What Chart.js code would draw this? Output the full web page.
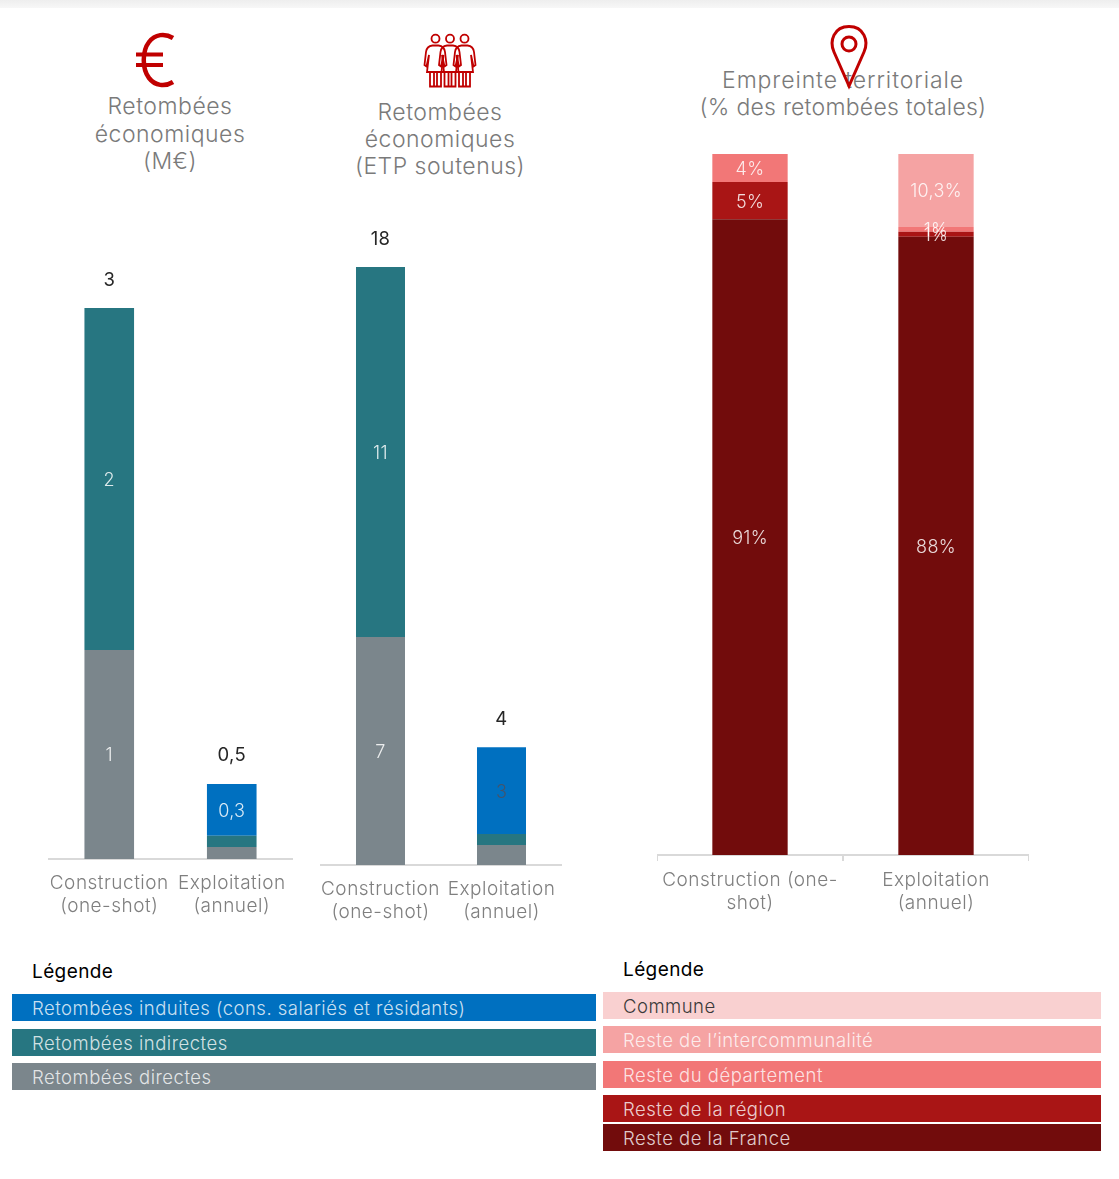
<!DOCTYPE html>
<html lang="fr">
<head>
<meta charset="utf-8">
<title>Retombées économiques</title>
<script src="https://cdn.jsdelivr.net/npm/chart.js@4"></script>
<style>
	html, body { margin: 0; padding: 0; background: #fff; }
	body { width: 1119px; height: 1179px; position: relative; overflow: hidden; font-family: Inter, sans-serif; font-weight: 300; }
	#topbar { position: absolute; left: 0; top: 0; width: 100%; height: 8px; background: linear-gradient(#eeeeee, #f7f7f7); }
	canvas { position: absolute; display: block; }
	.title { position: absolute; text-align: center; color: #7a7a7a; font-size: 23px; letter-spacing: 0.5px; white-space: nowrap; }
	.legend-title { position: absolute; color: #000; font-size: 19px; font-weight: 400; letter-spacing: 0.4px; line-height: 22px; }
	.legend-row { position: absolute; height: 27px; line-height: 28px; font-size: 18.5px; letter-spacing: 0.5px; box-sizing: border-box; white-space: nowrap; }
	svg.icon { position: absolute; left: 0; top: 0; pointer-events: none; }
</style>
</head>
<body>
<div id="topbar"></div>

<div class="title" style="left:70px;width:200px;top:93px;line-height:27.5px">Retombées<br>économiques<br>(M€)</div>
<div class="title" style="left:340px;width:200px;top:99px;line-height:27px">Retombées<br>économiques<br>(ETP soutenus)</div>
<div class="title" style="left:643px;width:400px;top:67px;line-height:27px"><span style="letter-spacing:0.9px">Empreinte territoriale</span><br><span style="letter-spacing:0.25px">(% des retombées totales)</span></div>

<canvas id="chart-meur" width="245" height="725" style="left:48px;top:200px"></canvas>
<canvas id="chart-etp" width="242" height="725" style="left:320px;top:200px"></canvas>
<canvas id="chart-terr" width="372" height="767" style="left:657px;top:154px"></canvas>

<div class="legend-title" style="left:32px;top:961px">Légende</div>
<div class="legend-title" style="left:623px;top:959px">Légende</div>
<div id="legend-left"></div>
<div id="legend-right"></div>

<svg class="icon" width="1119" height="120" fill="none" stroke="#C00000">
	<!-- euro -->
	<path stroke-width="4.5" d="M173 38 C165 33 155 34 149 42 C142 51 142 69 149 78 C155 86 165 87 173 82"/>
	<path stroke-width="4" d="M136 54.5 H163 M136 65 H163"/>
	<!-- femmes -->
	<defs>
		<g id="woman" stroke-width="1.8">
			<circle cx="0" cy="38.7" r="4"/>
			<path d="M-3 45.5 C-7 46 -9 47.5 -9.5 52 L-11 65 L-9 66.5 L-6.5 55 L-8.5 72 H8.5 L6.5 55 L9 66.5 L11 65 L9.5 52 C9 47.5 7 46 3 45.5 Z"/>
			<path d="M-5.5 72 V86.5 H5.5 V72 M-1.5 72 V86.5 M1.5 72 V86.5"/>
		</g>
	</defs>
	<use href="#woman" x="435.5"/>
	<use href="#woman" x="450"/>
	<use href="#woman" x="464.5"/>
	<!-- repere -->
	<path stroke-width="3" d="M849 86 L834 52 C829 41 834 26.5 849 26.5 C864 26.5 869 41 864 52 Z"/>
	<circle cx="849" cy="44" r="7" stroke-width="3"/>
</svg>

<script>
var periodLabels = [["Construction", "(one-shot)"], ["Exploitation", "(annuel)"]];
var territoryPeriodLabels = [["Construction (one-", "shot)"], ["Exploitation", "(annuel)"]];

// M€
var meurDirect = [1.208, 0.07];
var meurIndirect = [1.977, 0.064];
var meurInduced = [0, 0.30];
var meurDirectText = ["1", ""];
var meurIndirectText = ["2", ""];
var meurInducedText = ["", "0,3"];
var meurTotalText = ["3", "0,5"];

// ETP
var etpDirect = [6.87, 0.6];
var etpIndirect = [11.14, 0.33];
var etpInduced = [0, 2.62];
var etpDirectText = ["7", ""];
var etpIndirectText = ["11", ""];
var etpInducedText = ["", "3"];
var etpTotalText = ["18", "4"];

// empreinte territoriale
var terrFrance = [90.7, 88.2];
var terrRegion = [5.3, 0.72];
var terrDepartement = [4, 0.66];
var terrInterco = [0, 10.42];
var terrCommune = [0, 0];
var terrFranceText = ["91%", "88%"];
var terrRegionText = ["5%", "1%"];
var terrDepartementText = ["4%", "1%"];
var terrIntercoText = ["", "10,3%"];

var leftLegendNames = ["Retombées induites (cons. salariés et résidants)", "Retombées indirectes", "Retombées directes"];
var rightLegendNames = ["Commune", "Reste de l’intercommunalité", "Reste du département", "Reste de la région", "Reste de la France"];

var BLUE = "#0070C0", TEAL = "#277681", GREY = "#7B868C";
var COMMUNE = "#F9D0D0", INTERCO = "#F5A3A3", DEPT = "#F27777", REGION = "#A91515", FRANCE = "#720C0C";
var FONT = "Inter, sans-serif";
var GREY_TEXT = "#7f7f7f";
var SEG_TEXT = "rgba(255,255,255,0.85)";

// segment values and the total above the stack
var barLabels = {
	id: "barLabels",
	afterDatasetsDraw: function(chart, args, opts) {
		var ctx = chart.ctx;
		ctx.save();
		ctx.letterSpacing = "0.3px";
		ctx.textAlign = "center";
		ctx.textBaseline = "middle";
		chart.data.datasets.forEach(function(ds, i) {
			if (!ds.texts) return;
			chart.getDatasetMeta(i).data.forEach(function(bar, j) {
				if (!ds.texts[j]) return;
				var c = bar.getCenterPoint();
				ctx.font = "300 18px " + FONT;
				ctx.fillStyle = ds.textColor || SEG_TEXT;
				ctx.fillText(ds.texts[j], c.x, c.y + 1.5);
			});
		});
		if (opts.totals) {
			opts.totals.forEach(function(txt, j) {
				var sum = 0;
				chart.data.datasets.forEach(function(ds) { sum += ds.data[j]; });
				var x = chart.getDatasetMeta(0).data[j].x;
				ctx.font = "400 18.5px " + FONT;
				ctx.fillStyle = "#262626";
				ctx.fillText(txt, x, chart.scales.y.getPixelForValue(sum) - 28);
			});
		}
		ctx.restore();
	}
};

function stackedChart(id, labels, datasets, yMax, axisHeight, totals, withTicks) {
	return new Chart(document.getElementById(id).getContext("2d"), {
		type: "bar",
		data: { labels: labels, datasets: datasets },
		plugins: [barLabels, {
			id: "spacing",
			beforeDraw: function(chart) { chart.ctx.letterSpacing = "0.5px"; }
		}],
		options: {
			responsive: false,
			animation: false,
			barPercentage: 0.405,
			categoryPercentage: 1,
			layout: { padding: 0 },
			plugins: {
				legend: { display: false },
				tooltip: { enabled: false },
				barLabels: { totals: totals }
			},
			scales: {
				x: {
					stacked: true,
					afterFit: function(scale) {
						scale.height = axisHeight;
						scale.paddingLeft = 0;
						scale.paddingRight = 0;
					},
					border: { display: true, color: "#d9d9d9", width: 2 },
					grid: { display: withTicks, drawOnChartArea: false, drawTicks: withTicks, tickLength: 6, color: "#d9d9d9", lineWidth: 2 },
					ticks: {
						autoSkip: false,
						maxRotation: 0,
						padding: withTicks ? 8 : 13,
						color: GREY_TEXT,
						font: { family: FONT, size: 19, weight: "300", lineHeight: 1.21 }
					}
				},
				y: { stacked: true, display: false, min: 0, max: yMax }
			}
		}
	});
}

stackedChart("chart-meur", periodLabels, [
	{ data: meurDirect, backgroundColor: GREY, texts: meurDirectText },
	{ data: meurIndirect, backgroundColor: TEAL, texts: meurIndirectText },
	{ data: meurInduced, backgroundColor: BLUE, texts: meurInducedText }
], 3.81, 66, meurTotalText, false);

stackedChart("chart-etp", periodLabels, [
	{ data: etpDirect, backgroundColor: GREY, texts: etpDirectText },
	{ data: etpIndirect, backgroundColor: TEAL, texts: etpIndirectText },
	{ data: etpInduced, backgroundColor: BLUE, texts: etpInducedText, textColor: "#44546A" }
], 20.03, 60, etpTotalText, false);

stackedChart("chart-terr", territoryPeriodLabels, [
	{ data: terrFrance, backgroundColor: FRANCE, texts: terrFranceText },
	{ data: terrRegion, backgroundColor: REGION, texts: terrRegionText },
	{ data: terrDepartement, backgroundColor: DEPT, texts: terrDepartementText },
	{ data: terrInterco, backgroundColor: INTERCO, texts: terrIntercoText },
	{ data: terrCommune, backgroundColor: COMMUNE }
], 100, 66, null, true);

// hand-placed legends, as in the source report
function addLegend(holderId, names, colors, tops, left, width, textColors) {
	var holder = document.getElementById(holderId);
	names.forEach(function(name, i) {
		var row = document.createElement("div");
		row.className = "legend-row";
		row.textContent = name;
		row.style.left = left + "px";
		row.style.width = width + "px";
		row.style.paddingLeft = "20px";
		row.style.top = tops[i] + "px";
		row.style.background = colors[i];
		row.style.color = textColors[i];
		holder.appendChild(row);
	});
}

var LIGHT = "rgba(255,255,255,0.8)";
addLegend("legend-left", leftLegendNames, [BLUE, TEAL, GREY], [994, 1029, 1063], 12, 584, [LIGHT, LIGHT, LIGHT]);
addLegend("legend-right", rightLegendNames, [COMMUNE, INTERCO, DEPT, REGION, FRANCE], [992, 1026, 1061, 1095, 1124], 603, 498, ["#3a3a3a", LIGHT, LIGHT, LIGHT, LIGHT]);
</script>
</body>
</html>
